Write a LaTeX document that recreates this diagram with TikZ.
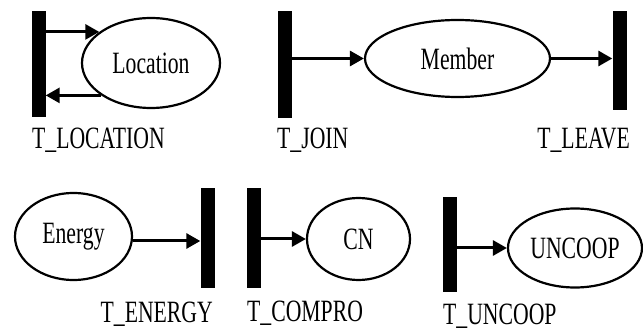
\documentclass[tikz,border=0pt]{standalone}
\usepackage{fontspec}
\setmainfont{Liberation Serif}[FakeStretch=0.7]
\usetikzlibrary{shapes.geometric,arrows.meta}
\tikzset{
  place/.style={ellipse,draw,line width=2.2pt,inner sep=0pt},
  trans/.style={rectangle,fill=black,inner sep=0pt,minimum width=14pt},
  arr/.style={line width=3pt,-{Triangle[length=14pt,width=15pt]}},
  lbl/.style={inner sep=0pt},
  txt/.style={font=\fontsize{31}{34}\selectfont}
}
\begin{document}
\begin{tikzpicture}[x=1pt,y=-1pt,txt]
\useasboundingbox (0,0) rectangle (643,331);
% top row
\node[trans,minimum height=106pt] (tloc) at (38.5,64) {};
\node[place,minimum width=138pt,minimum height=90pt] (loc) at (151,63) {Location};
\node[lbl,anchor=base west] (ltloc) at (32,149) {T\_LOCATION};
\draw[arr] (tloc.east |- loc.149.5) -- (loc.149.5);
\draw[arr] (loc.213) -- (tloc.east |- loc.213);

\node[trans,minimum height=107pt] (tjoin) at (284.5,64.5) {};
\node[place,minimum width=185pt,minimum height=77pt] (mem) at (457.5,58.5) {Member};
\node[trans,minimum height=99pt] (tleave) at (619.5,60.5) {};
\node[lbl,anchor=base west] (ltjoin) at (277,149) {T\_JOIN};
\node[lbl,anchor=base east] (ltleave) at (630,149) {T\_LEAVE};
\draw[arr] (tjoin.east |- mem.west) -- (mem.west);
\draw[arr] (mem.east) -- (tleave.west |- mem.east);

% bottom row
\node[place,minimum width=117pt,minimum height=87pt] (energy) at (73.5,236.5) {Energy};
\node[trans,minimum height=100pt] (tenergy) at (207.5,238) {};
\node[lbl,anchor=base east] (ltenergy) at (213,323) {T\_ENERGY};
\draw[arr] (energy.east |- 0,241) -- (tenergy.west |- 0,241);

\node[trans,minimum height=100pt] (tcompro) at (254,238) {};
\node[place,minimum width=103pt,minimum height=82pt] (cn) at (358.5,239) {CN};
\node[lbl,anchor=base west] (ltcompro) at (247,321) {T\_COMPRO};
\draw[arr] (tcompro.east |- cn.west) -- (cn.west);

\node[trans,minimum height=95pt] (tuncoop) at (450,244.5) {};
\node[place,minimum width=134pt,minimum height=79pt] (uncoop) at (575,248) {UNCOOP};
\node[lbl,anchor=base west] (ltuncoop) at (443,324) {T\_UNCOOP};
\draw[arr] (tuncoop.east |- uncoop.west) -- (uncoop.west);
\end{tikzpicture}
\end{document}
